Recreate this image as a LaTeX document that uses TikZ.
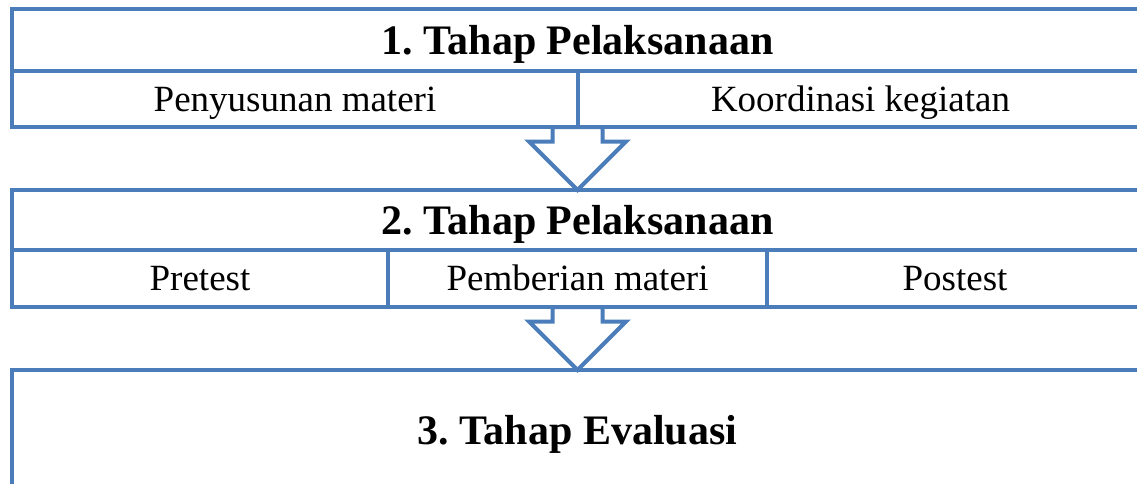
\documentclass[tikz,border=0pt]{standalone}
\usepackage{fontspec}
\setmainfont{Liberation Serif}
\usetikzlibrary{shapes.arrows}
\definecolor{boxblue}{RGB}{74,125,186}

\begin{document}
\begin{tikzpicture}[x=1pt,y=-1pt]
\useasboundingbox (0,0) rectangle (1137,483);
\clip (0,0) rectangle (1137,483);
\begin{scope}[every node/.style={rectangle,draw=boxblue,line width=4pt,inner sep=0pt,outer sep=0pt,text height=24.5pt,text depth=0pt,font=\fontsize{37}{40}\selectfont\frenchspacing},
    judul/.style={text height=28.4pt,font=\fontsize{42}{46}\selectfont\bfseries\frenchspacing}]
    \node[judul,minimum width=1131pt,minimum height=62pt] (t1) at (577.5,40) {1. Tahap Pelaksanaan};
    \node[minimum width=566pt,minimum height=56pt] (p1) at (295,99) {Penyusunan materi};
    \node[minimum width=565pt,minimum height=56pt] (p2) at (860.5,99) {Koordinasi kegiatan};
    \node[judul,minimum width=1131pt,minimum height=60pt] (t2) at (577.5,220) {2. Tahap Pelaksanaan};
    \node[minimum width=376pt,minimum height=57pt] (q1) at (200,278.5) {Pretest};
    \node[minimum width=379pt,minimum height=57pt] (q2) at (577.5,278.5) {Pemberian materi};
    \node[minimum width=376pt,minimum height=57pt] (q3) at (955,278.5) {Postest};
    \node[judul,minimum width=1131pt,minimum height=120pt] (t3) at (577.5,430) {3. Tahap Evaluasi};
\end{scope}

\begin{scope}[every node/.style={single arrow,draw=boxblue,fill=white,line width=4pt,inner xsep=23pt,inner ysep=0pt,outer sep=0pt,minimum height=63pt,single arrow head extend=23.5pt,shape border rotate=270,anchor=tip}]
    \node (a1) at (t2.north) {};
    \node (a2) at (t3.north) {};
\end{scope}

\end{tikzpicture}
\end{document}
